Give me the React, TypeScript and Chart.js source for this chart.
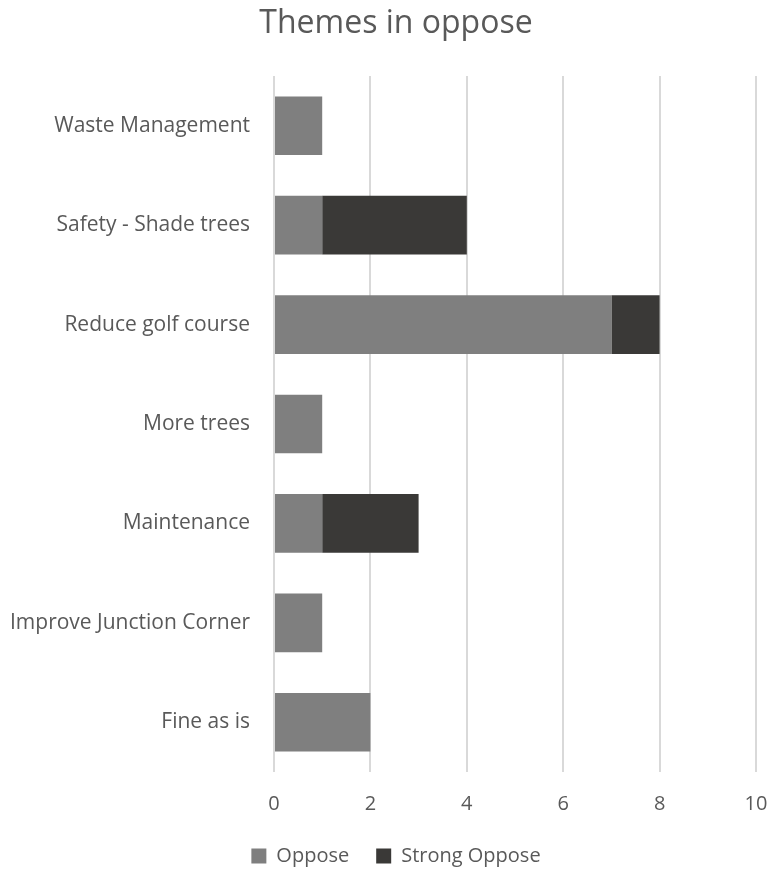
import React, { useEffect, useRef } from "react";
import { Chart, registerables } from "chart.js";

Chart.register(...registerables);

const categories = [
  "Waste Management",
  "Safety - Shade trees",
  "Reduce golf course",
  "More trees",
  "Maintenance",
  "Improve Junction Corner",
  "Fine as is",
];
const opposeValues = [1, 1, 7, 1, 1, 1, 2];
const strongOpposeValues = [0, 3, 1, 0, 2, 0, 0];
const xTickValues = [0, 2, 4, 6, 8, 10];

const TEXT = "#595959";
const FONT = "'Open Sans', 'DejaVu Sans', sans-serif";

export default function App() {
  const ref = useRef<HTMLCanvasElement | null>(null);

  useEffect(() => {
    if (!ref.current) return;
    const chart = new Chart(ref.current, {
      type: "bar",
      data: {
        labels: categories,
        datasets: [
          {
            label: "Oppose",
            data: opposeValues,
            backgroundColor: "#7F7F7F",
            borderWidth: 0,
            categoryPercentage: 1,
            barPercentage: 0.59,
          },
          {
            label: "Strong Oppose",
            data: strongOpposeValues,
            backgroundColor: "#3A3937",
            borderWidth: 0,
            categoryPercentage: 1,
            barPercentage: 0.59,
          },
        ],
      },
      options: {
        indexAxis: "y",
        responsive: false,
        animation: false,
        layout: { padding: { left: 0, right: 8, top: 0, bottom: 0 } },
        scales: {
          x: {
            stacked: true,
            min: 0,
            max: 10,
            afterBuildTicks: (scale: any) => {
              scale.ticks = xTickValues.map((v) => ({ value: v }));
            },
            afterFit: (scale: any) => {
              scale.height = 47;
            },
            grid: { color: "#D9D9D9", lineWidth: 2, drawTicks: false },
            border: { display: false },
            ticks: {
              color: TEXT,
              font: { family: FONT, size: 20 },
              padding: 20,
            },
          },
          y: {
            stacked: true,
            grid: { display: false, drawTicks: false },
            border: { display: false },
            afterFit: (scale: any) => {
              scale.width = 274;
            },
            ticks: {
              color: TEXT,
              font: { family: FONT, size: 21 },
              padding: 24,
            },
          },
          y2: {
            position: "right",
            grid: { display: false, drawTicks: false },
            border: { display: false },
            ticks: { display: false },
            afterFit: (scale: any) => {
              scale.width = 36;
            },
          },
        },
        plugins: {
          title: {
            display: true,
            text: "Themes in oppose",
            color: TEXT,
            font: { family: FONT, size: 32, weight: "normal" },
            padding: { top: 5, bottom: 32.6 },
          },
          legend: {
            position: "bottom",
            labels: {
              color: TEXT,
              font: { family: FONT, size: 20 },
              boxWidth: 15,
              boxHeight: 15,
              padding: 27,
            },
          },
          tooltip: { enabled: false },
        },
      },
    });
    return () => chart.destroy();
  }, []);

  return (
    <div style={{ position: "absolute", left: 0, top: 0, width: 771, height: 872, overflow: "hidden", background: "#fff" }}>
      <canvas ref={ref} width={800} height={876} style={{ display: "block" }} />
    </div>
  );
}
